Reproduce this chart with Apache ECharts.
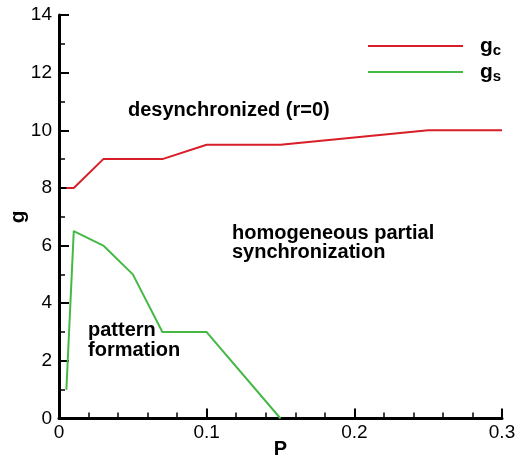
<!DOCTYPE html>
<html>
<head>
<meta charset="utf-8">
<script src="https://cdn.jsdelivr.net/npm/echarts@6/dist/echarts.min.js"></script>
<style>
  html, body { margin: 0; padding: 0; background: #fff; }
  #chart { width: 518px; height: 457px; }
</style>
</head>
<body>
<div id="chart"></div>
<script>
// Phase boundaries in the (P, g) plane
const pCritical = [0.005, 0.01, 0.03, 0.07, 0.1, 0.15, 0.25, 0.3];
const gCritical = [8, 8, 9, 9, 9.5, 9.5, 10, 10];

const pStable = [0.005, 0.01, 0.03, 0.05, 0.07, 0.1, 0.15];
const gStable = [1, 6.5, 6, 5, 3, 3, 0];

const seriesNames = ['c', 's'];
const regionLabels = ['desynchronized (r=0)', 'homogeneous partial', 'synchronization', 'pattern', 'formation'];

const font = '"Liberation Sans", Arial, Helvetica, sans-serif';
const chart = echarts.init(document.getElementById('chart'), null, { renderer: 'canvas' });

const zip = (xs, ys) => xs.map((x, i) => [x, ys[i]]);

// Bold region label
const regionText = (x, y, text) => ({
  type: 'text',
  x: x,
  y: y,
  style: {
    text: text,
    font: 'bold 20px ' + font,
    fill: '#000',
    lineHeight: 19.5,
    verticalAlign: 'top'
  }
});

chart.setOption({
  animation: false,
  backgroundColor: '#ffffff',
  grid: { left: 59, right: 16, top: 15, bottom: 38.5, containLabel: false, outerBoundsMode: 'none' },
  legend: {
    orient: 'vertical',
    left: 368,
    top: 34,
    padding: 0,
    itemWidth: 95,
    itemHeight: 2,
    itemGap: 2,
    icon: 'rect',
    data: seriesNames,
    formatter: n => '{g|g}{sub|' + n + '}',
    textStyle: {
      padding: [0, 0, 0, 12],
      rich: {
        g: { fontFamily: font, fontSize: 21, fontWeight: 'bold', color: '#000', lineHeight: 21 },
        sub: { fontFamily: font, fontSize: 15, fontWeight: 'bold', color: '#000', padding: [9, 0, 0, 0], lineHeight: 21 }
      }
    }
  },
  xAxis: {
    type: 'value',
    min: 0,
    max: 0.3,
    interval: 0.1,
    name: 'P',
    nameLocation: 'middle',
    nameGap: 21,
    nameMoveOverlap: false,
    nameTextStyle: { fontFamily: font, fontSize: 20, fontWeight: 'bold', color: '#000' },
    axisLine: { show: true, onZero: false, lineStyle: { color: '#000', width: 3 } },
    axisTick: { show: true, inside: true, length: 10, lineStyle: { color: '#000', width: 2 } },
    minorTick: { show: true, splitNumber: 5, length: 6, lineStyle: { color: '#000', width: 1.5 } },
    splitLine: { show: false },
    axisLabel: {
      margin: 5,
      fontFamily: font, fontSize: 19, color: '#000',
      formatter: v => (v === 0 ? '0' : v.toFixed(1))
    }
  },
  yAxis: {
    type: 'value',
    min: 0,
    max: 14,
    interval: 2,
    name: 'g',
    nameLocation: 'middle',
    nameGap: 30,
    nameRotate: 90,
    nameMoveOverlap: false,
    nameTextStyle: { fontFamily: font, fontSize: 21, fontWeight: 'bold', color: '#000' },
    axisLine: { show: true, onZero: false, lineStyle: { color: '#000', width: 3 } },
    axisTick: { show: true, inside: true, length: 10, lineStyle: { color: '#000', width: 2 } },
    minorTick: { show: true, splitNumber: 2, length: 6, lineStyle: { color: '#000', width: 1.5 } },
    splitLine: { show: false },
    axisLabel: { margin: 7, fontFamily: font, fontSize: 19, color: '#000' }
  },
  series: [
    {
      name: 'c',
      type: 'line',
      data: zip(pCritical, gCritical),
      symbol: 'none',
      color: '#d81e28',
      lineStyle: { width: 2, color: '#d81e28' },
      z: 3
    },
    {
      name: 's',
      type: 'line',
      data: zip(pStable, gStable),
      symbol: 'none',
      color: '#45b845',
      lineStyle: { width: 2, color: '#45b845' },
      z: 3
    }
  ],
  graphic: [
    regionText(128, 101, regionLabels[0]),
    regionText(232, 223.3, regionLabels[1] + '\n' + regionLabels[2]),
    regionText(88, 321, regionLabels[3] + '\n' + regionLabels[4])
  ]
});
</script>
</body>
</html>
